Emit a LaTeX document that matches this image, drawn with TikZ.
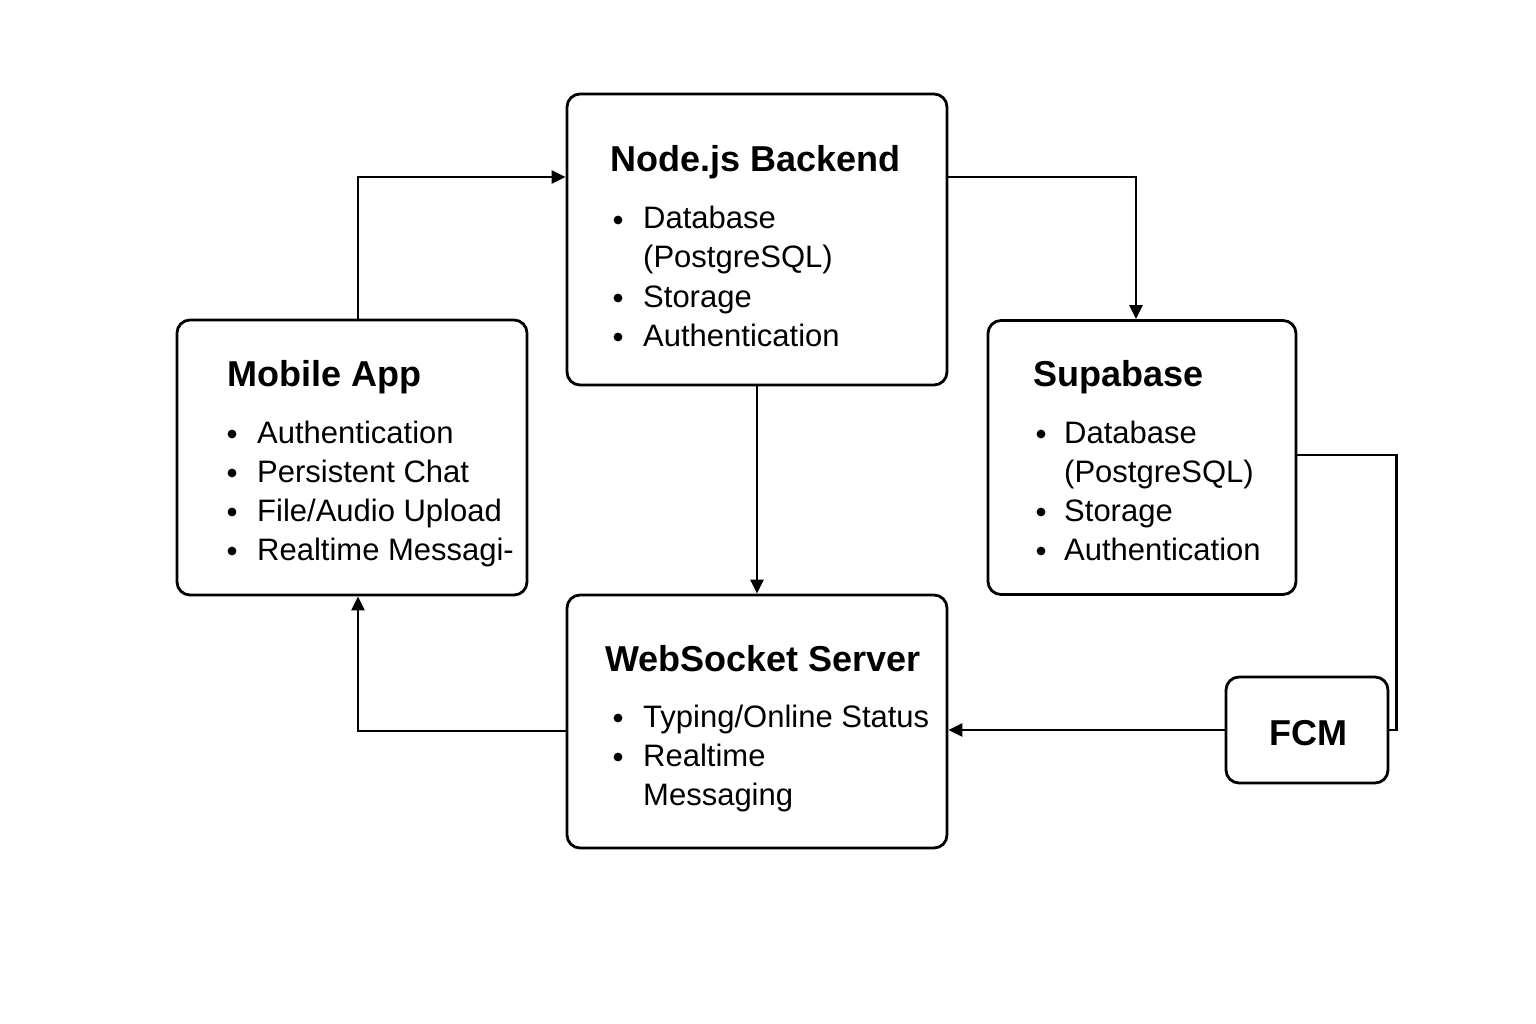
\documentclass[tikz,border=0pt]{standalone}
\usepackage{fontspec}
\setmainfont{Liberation Sans}
\usetikzlibrary{arrows.meta}
\begin{document}
\begin{tikzpicture}[x=1pt,y=-1pt,
  box/.style={draw=black, line width=2.8pt, rounded corners=13pt, fill=white, inner sep=0pt},
  conn/.style={draw=black, line width=2.7pt},
  arr/.style={conn, -{Triangle[length=14pt,width=13pt]}},
  ttl/.style={anchor=base west, inner sep=0pt, font=\fontsize{36}{40}\selectfont\bfseries},
  itm/.style={anchor=base west, inner sep=0pt, font=\fontsize{31}{36}\selectfont},
  dot/.style={fill=black}]
\useasboundingbox[fill=white] (0,0) rectangle (1536,1024);

% boxes
\node[box, minimum width=380pt, minimum height=291pt] (nb) at (757,239.5) {};
\node[box, minimum width=350pt, minimum height=275pt] (mob) at (352,457.5) {};
\node[box, minimum width=308pt, minimum height=274pt] (sb) at (1142,457.5) {};
\node[box, minimum width=380pt, minimum height=253pt] (ws) at (757,721.5) {};
\node[box, minimum width=162pt, minimum height=106pt] (fcm) at (1307,730) {};

% connectors
\draw[arr] ([xshift=6pt]mob.north) |- ([yshift=62.5pt]nb.west);
\draw[arr] ([yshift=62.5pt]nb.east) -| ([xshift=-6pt]sb.north);
\draw[arr] (nb.south) -- (ws.north);
\draw[arr] ([yshift=-9.5pt]ws.west) -| ([xshift=6pt]mob.south);
\draw[conn] ([yshift=2.5pt]sb.east) -- ++(99,0) |- (fcm.east);
\draw[arr] (fcm.west) -- (fcm.west -| ws.east);

% Node.js Backend
\node[ttl] (nbt) at (610,172) {Node.js Backend};
\node[itm] (nb1) at (643,229) {Database};
\node[itm] (nb2) at (643,268) {(PostgreSQL)};
\node[itm] (nb3) at (643,307) {Storage};
\node[itm] (nb4) at (643,346) {Authentication};
\fill[dot] (618,220) circle (4.4);
\fill[dot] (618,298) circle (4.4);
\fill[dot] (618,337) circle (4.4);

% Mobile App
\node[ttl] (mobt) at (227,386) {Mobile App};
\node[itm] (mob1) at (257,443) {Authentication};
\node[itm] (mob2) at (257,482) {Persistent Chat};
\node[itm] (mob3) at (257,521) {File/Audio Upload};
\node[itm] (mob4) at (257,560) {Realtime Messagi-};
\fill[dot] (232,434) circle (4.4);
\fill[dot] (232,473) circle (4.4);
\fill[dot] (232,512) circle (4.4);
\fill[dot] (232,551) circle (4.4);

% Supabase
\node[ttl] (sbt) at (1033,386) {Supabase};
\node[itm] (sb1) at (1064,443) {Database};
\node[itm] (sb2) at (1064,482) {(PostgreSQL)};
\node[itm] (sb3) at (1064,521) {Storage};
\node[itm] (sb4) at (1064,560) {Authentication};
\fill[dot] (1041,434) circle (4.4);
\fill[dot] (1041,512) circle (4.4);
\fill[dot] (1041,551) circle (4.4);

% WebSocket Server
\node[ttl] (wst) at (605,671) {WebSocket Server};
\node[itm] (ws1) at (643,727) {Typing/Online Status};
\node[itm] (ws2) at (643,766) {Realtime};
\node[itm] (ws3) at (643,805) {Messaging};
\fill[dot] (618,718) circle (4.4);
\fill[dot] (618,757) circle (4.4);

% FCM
\node[inner sep=0pt, font=\fontsize{36}{40}\selectfont\bfseries] (fcmt) at (1308,733) {FCM};
\end{tikzpicture}
\end{document}
